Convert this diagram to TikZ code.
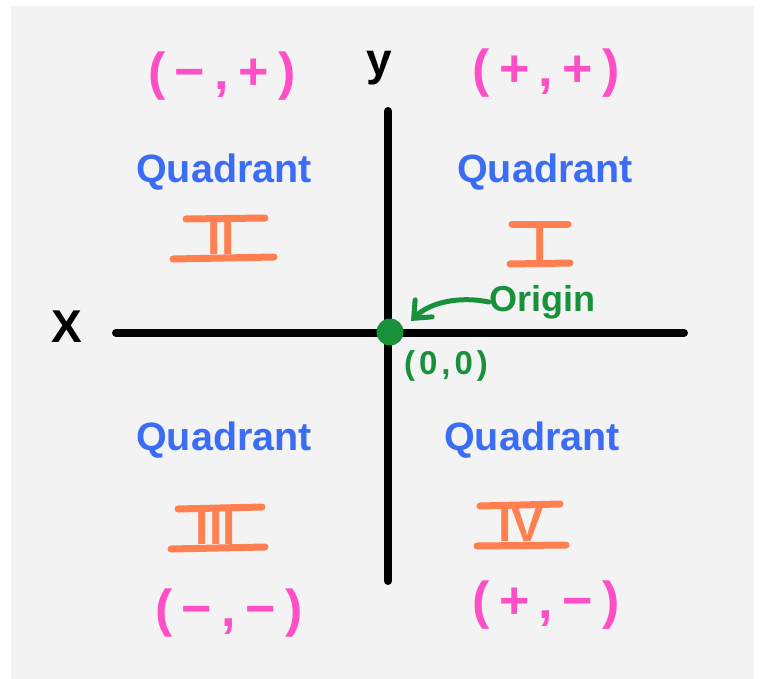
\documentclass[tikz,border=0pt]{standalone}
\usepackage{fontspec}
\setmainfont{Liberation Sans}
\newfontfamily\handfont[LetterSpace=18]{Liberation Sans}
\newfontfamily\zerofont[LetterSpace=12]{Liberation Sans}
\usetikzlibrary{arrows.meta}
\definecolor{bggray}{HTML}{F3F3F3}
\definecolor{pinkc}{HTML}{FF4FC6}
\definecolor{bluec}{HTML}{3A6CF4}
\definecolor{orangec}{HTML}{FF7F50}
\definecolor{greenc}{HTML}{17923A}
\tikzset{
  axis/.style={line width=8pt, line cap=round, black},
  quad/.style={text=bluec, font=\fontsize{39.5}{42}\selectfont\bfseries, inner sep=0pt},
  signs/.style={text=pinkc, font=\handfont\fontsize{52}{54}\selectfont\bfseries, inner sep=0pt},
  numeral/.style={text=orangec, font=\fontsize{48}{50}\selectfont\bfseries, inner sep=0pt},
  bar/.style={orangec, line width=7pt, line cap=round},
  greenlbl/.style={text=greenc, font=\fontsize{36}{38}\selectfont\bfseries, inner sep=0pt},
  axlbl/.style={text=black, font=\fontsize{46}{48}\selectfont\bfseries, inner sep=0pt}
}
\begin{document}
\begin{tikzpicture}[x=1pt,y=-1pt]
\useasboundingbox (0,0) rectangle (765,679);
\fill[white] (0,0) rectangle (765,679);
\fill[bggray] (11,6) rectangle (754,679);

% axes
\coordinate (xl) at (116,333);
\coordinate (xr) at (684,333);
\coordinate (yt) at (388,111);
\coordinate (yb) at (388,581);
\draw[axis] (xl) -- (xr);
\draw[axis] (yt) -- (yb);

\node[axlbl] (ylbl) at (379,68) {y};
\node[axlbl] (xlbl) at (67,327) {X};

% origin
\node[circle, fill=greenc, minimum size=27pt, inner sep=0pt] (origin) at (390,332) {};
\node[greenlbl] (originlbl) at (542,302) {Origin};
\coordinate (tip) at (411,321);
\draw[greenc, line width=5pt, line cap=round, -{Straight Barb[length=14pt,width=24pt,line cap=round]}]
  (originlbl.west) .. controls (460,296) and (430,302) .. (tip);
\node[greenlbl, font=\zerofont\fontsize{33}{36}\selectfont\bfseries] (zero) at (446,366) {(0,0)};

% signs
\node[signs] (s1) at (222,76) {(−,+)};
\node[signs] (s2) at (546,73) {(+,+)};
\node[signs] (s3) at (229,613) {(−,−)};
\node[signs] (s4) at (546,605) {(+,−)};

% quadrant words
\node[quad] (q2) at (224,172) {Quadrant};
\node[quad] (q1) at (545,172) {Quadrant};
\node[quad] (q3) at (224,440) {Quadrant};
\node[quad] (q4) at (532,440) {Quadrant};

% numerals
\node[numeral] (n2) at (221,238) {II};
\draw[bar] (186,219) -- (265,218);
\draw[bar] (173,259) -- (274,257);

\node[numeral] (n1) at (540,244) {I};
\draw[bar] (512,224) -- (568,224);
\draw[bar] (510,264) -- (570,263);

\node[numeral] (n3) at (216,528) {III};
\draw[bar] (178,509) -- (262,507);
\draw[bar] (171,549) -- (265,547);

\node[numeral] (n4) at (521,525) {IV};
\draw[bar] (480,506) -- (560,504);
\draw[bar] (477,546) -- (566,545);
\end{tikzpicture}
\end{document}
